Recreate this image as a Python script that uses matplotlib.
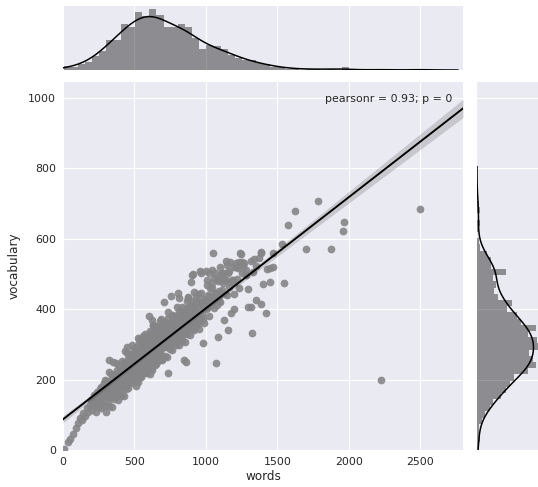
import numpy as np
import matplotlib
matplotlib.use("Agg")
import matplotlib.pyplot as plt

# ---------------- data ----------------
words = [
    5, 33, 48, 68, 92, 108, 120, 135, 142, 155,
    166, 175, 188, 195, 203, 208, 212, 218, 222, 228,
    233, 238, 243, 247, 252, 256, 260, 264, 268, 272,
    276, 280, 284, 287, 291, 294, 297, 299, 302, 305,
    307, 310, 312, 315, 318, 320, 321, 323, 325, 328,
    330, 333, 336, 338, 340, 343, 345, 347, 348, 350,
    353, 355, 358, 360, 362, 365, 368, 370, 373, 375,
    378, 380, 383, 385, 388, 390, 392, 394, 396, 398,
    401, 403, 405, 407, 409, 411, 413, 415, 417, 419,
    421, 423, 425, 427, 428, 429, 431, 433, 435, 436,
    437, 439, 441, 443, 445, 446, 447, 449, 451, 453,
    454, 455, 457, 459, 461, 462, 463, 465, 467, 469,
    471, 473, 475, 477, 478, 479, 481, 483, 485, 487,
    489, 491, 492, 493, 495, 497, 499, 404, 426, 468,
    501, 502, 504, 505, 507, 508, 510, 511, 513, 514,
    516, 517, 519, 520, 522, 523, 525, 526, 528, 529,
    531, 532, 534, 535, 537, 538, 540, 541, 543, 544,
    546, 547, 549, 550, 552, 553, 555, 556, 558, 559,
    561, 562, 564, 565, 567, 568, 570, 571, 573, 574,
    576, 577, 579, 580, 582, 584, 586, 588, 590, 592,
    594, 596, 598, 599, 509, 533, 548, 563, 578, 595,
    601, 603, 604, 606, 608, 609, 611, 613, 614, 616,
    618, 619, 621, 623, 624, 626, 628, 629, 631, 633,
    634, 635, 636, 638, 640, 641, 643, 645, 646, 648,
    650, 651, 653, 655, 656, 658, 660, 661, 663, 665,
    666, 668, 670, 671, 673, 675, 676, 678, 680, 681,
    683, 685, 686, 688, 690, 691, 693, 695, 697, 699,
    612, 627, 642, 657, 672, 687, 696, 607, 622, 652,
    701, 703, 705, 706, 708, 710, 712, 714, 716, 718,
    720, 722, 724, 726, 728, 730, 733, 735, 737, 739,
    741, 743, 745, 747, 749, 751, 754, 756, 758, 760,
    762, 764, 766, 768, 770, 772, 774, 776, 778, 780,
    782, 784, 786, 788, 790, 792, 794, 796, 798, 733,
    801, 803, 804, 806, 808, 810, 812, 814, 816, 818,
    820, 822, 824, 826, 828, 830, 833, 835, 837, 839,
    841, 843, 845, 847, 849, 851, 854, 856, 859, 861,
    863, 865, 868, 870, 872, 875, 877, 880, 882, 885,
    887, 890, 892, 894, 896, 898, 815, 845, 871, 893,
    900, 903, 906, 908, 911, 914, 917, 920, 923, 926,
    929, 932, 935, 938, 941, 944, 947, 950, 953, 957,
    960, 964, 967, 970, 974, 977, 981, 985, 990, 995,
    1000, 1005, 1010, 1015, 1020, 1025, 1030, 1036, 1042, 1047,
    1053, 1061, 1068, 1075, 1082, 1090, 1097, 1003, 1028, 1056,
    1105, 1112, 1124, 1124, 1133, 1142, 1152, 1152, 1160, 1173,
    1180, 1194, 1194, 1208, 1215, 1225, 1236, 1243, 1252, 1265,
    1278, 1292, 1292, 1313, 1313, 1320, 1327, 1334, 1348, 1348,
    1369, 1383, 1383, 1383, 1397, 1424, 1430, 1452, 1452, 1473,
    1473, 1536, 1550, 1578, 1627, 1704, 1788, 1878, 1962, 1969,
    1012, 1033, 1058, 1072, 1088, 1102, 1118, 1138, 1165, 1188,
    1022, 1044, 1066, 1094, 1116, 1146, 1170, 1200, 1230, 1258,
    410, 432, 452, 470, 488, 506, 521, 539, 557, 571,
    585, 597, 605, 617, 630, 639, 649, 662, 674, 689,
    702, 715, 727, 738, 748, 759, 769, 781, 793, 805,
    818, 829, 842, 853, 866, 878, 889, 902, 915, 928,
    940, 952, 965, 978, 992, 1008, 1024, 1040, 1058, 1076,
    1092, 1110, 1128, 1148, 1168, 1188, 1210, 1232, 1255, 1280,
    520, 545, 566, 588, 610, 633, 655, 678, 700, 725,
    742, 765, 787, 810, 832, 855, 878, 900, 925, 948,
    2228, 2500,
]

vocabulary = [
    4, 22, 30, 45, 62, 78, 90, 84, 105, 96,
    118, 108, 128, 142, 114, 140, 124, 156, 130, 108,
    144, 166, 134, 122, 156, 172, 142, 118, 180, 152,
    164, 136, 190, 125, 168, 154, 198, 108, 178, 152,
    160, 196, 133, 179, 151, 221, 256, 124, 191, 179,
    190, 151, 215, 167, 182, 123, 203, 165, 250, 151,
    160, 191, 217, 145, 199, 179, 248, 161, 190, 175,
    226, 179, 143, 214, 165, 201, 240, 179, 223, 179,
    193, 228, 166, 211, 183, 253, 201, 156, 223, 211,
    221, 182, 246, 198, 213, 153, 233, 196, 280, 181,
    189, 221, 246, 174, 228, 293, 275, 188, 217, 203,
    259, 211, 175, 246, 196, 232, 271, 210, 253, 210,
    240, 203, 272, 224, 255, 189, 238, 297, 212, 220,
    218, 270, 234, 200, 257, 287, 230, 153, 239, 235,
    234, 269, 206, 252, 223, 293, 241, 196, 263, 250,
    261, 221, 285, 237, 252, 192, 272, 234, 319, 219,
    228, 259, 285, 212, 266, 245, 314, 226, 255, 240,
    291, 243, 207, 278, 228, 264, 303, 242, 285, 242,
    271, 234, 303, 255, 286, 220, 270, 328, 243, 251,
    249, 300, 265, 230, 288, 317, 260, 218, 297, 278,
    303, 262, 284, 380, 183, 307, 209, 324, 223, 318,
    269, 304, 241, 287, 259, 328, 276, 232, 298, 286,
    296, 257, 320, 273, 287, 228, 308, 270, 355, 256,
    264, 295, 321, 248, 302, 281, 350, 263, 291, 277,
    328, 280, 244, 314, 265, 300, 340, 278, 322, 279,
    308, 271, 341, 292, 324, 257, 307, 365, 280, 288,
    286, 338, 302, 268, 326, 355, 298, 255, 334, 316,
    217, 354, 240, 353, 292, 371, 257, 289, 368, 289,
    304, 339, 419, 322, 294, 364, 311, 267, 334, 321,
    332, 293, 356, 309, 324, 265, 219, 307, 392, 293,
    301, 333, 359, 286, 340, 320, 436, 302, 330, 316,
    367, 319, 283, 354, 305, 340, 380, 319, 362, 319,
    349, 311, 381, 333, 365, 298, 348, 407, 321, 307,
    327, 447, 343, 309, 367, 433, 339, 297, 376, 357,
    346, 381, 318, 364, 336, 406, 354, 309, 376, 364,
    374, 335, 256, 351, 366, 307, 387, 350, 251, 335,
    344, 376, 402, 330, 383, 363, 432, 345, 374, 360,
    410, 364, 327, 476, 349, 384, 394, 343, 395, 359,
    498, 353, 423, 501, 407, 341, 391, 450, 365, 374,
    372, 424, 389, 355, 413, 443, 386, 345, 424, 507,
    395, 504, 368, 415, 387, 305, 405, 362, 430, 418,
    507, 404, 469, 422, 504, 380, 461, 425, 511, 558,
    423, 504, 248, 413, 322, 451, 521, 400, 437, 432,
    499, 453, 370, 504, 444, 482, 342, 504, 508, 390,
    482, 521, 399, 521, 487, 517, 558, 556, 502, 532,
    512, 407, 456, 405, 536, 333, 505, 541, 427, 522,
    544, 558, 561, 416, 470, 390, 513, 516, 476, 521,
    558, 584, 473, 638, 678, 570, 707, 570, 621, 647,
    441, 411, 488, 444, 481, 419, 473, 538, 462, 478,
    417, 475, 447, 422, 487, 526, 477, 444, 533, 523,
    222, 185, 247, 217, 274, 211, 262, 248, 304, 242,
    245, 297, 283, 246, 336, 276, 320, 253, 316, 341,
    342, 296, 329, 376, 292, 350, 328, 378, 315, 360,
    338, 393, 329, 382, 424, 349, 384, 343, 413, 438,
    419, 379, 447, 372, 425, 483, 410, 461, 403, 485,
    436, 504, 487, 441, 534, 483, 532, 459, 535, 497,
    253, 241, 298, 246, 339, 277, 314, 269, 355, 322,
    297, 383, 332, 372, 313, 397, 435, 365, 397, 362,
    199, 684,
]

x_ticks = [0, 500, 1000, 1500, 2000, 2500]
y_ticks = [0, 200, 400, 600, 800, 1000]
x_label = "words"
y_label = "vocabulary"
stat_text = "pearsonr = 0.93; p = 0"

# ---------------- helpers ----------------
w = np.asarray(words, float)
v = np.asarray(vocabulary, float)
assert len(w) == len(v), (len(w), len(v))


def kde(data, cut=3, gridsize=100):
    n = len(data)
    q75, q25 = np.percentile(data, [75, 25])
    a = min(np.std(data, ddof=1), (q75 - q25) / 1.349)
    bw = 1.059 * a * n ** (-0.2)
    grid = np.linspace(data.min() - cut * bw, data.max() + cut * bw, gridsize)
    z = (grid[:, None] - data[None, :]) / bw
    dens = np.exp(-0.5 * z ** 2).sum(axis=1) / (n * bw * np.sqrt(2 * np.pi))
    return grid, dens


BG = "#EAEAF2"
TXT = "#262626"
plt.rcParams["font.family"] = ["DejaVu Sans"]

fig = plt.figure(figsize=(538 / 72, 487 / 72), dpi=72)
ax = fig.add_axes([63 / 538, 37 / 487, 400 / 538, 368 / 487])
axx = fig.add_axes([63 / 538, 417 / 487, 400 / 538, 64 / 487], sharex=ax)
axy = fig.add_axes([477 / 538, 37 / 487, 65 / 538, 368 / 487], sharey=ax)

for a in (ax, axx, axy):
    a.set_facecolor(BG)
    for s in a.spines.values():
        s.set_visible(False)
    a.tick_params(length=0, colors=TXT, labelsize=11)
    a.set_axisbelow(True)

ax.grid(True, color="white", lw=1.1)
axx.xaxis.grid(True, color="white", lw=1.1)
axx.yaxis.grid(False)
axy.yaxis.grid(True, color="white", lw=1.1)
axy.xaxis.grid(False)

# ---- joint scatter + regression ----
ax.scatter(w, v, s=60, color="#858587", alpha=0.9, linewidths=0, zorder=2)

slope, intercept = np.polyfit(w, v, 1)
xs = np.linspace(0, 2800, 200)
yhat = intercept + slope * xs
resid = v - (intercept + slope * w)
n = len(w)
s_err = np.sqrt((resid ** 2).sum() / (n - 2))
se = s_err * np.sqrt(1.0 / n + (xs - w.mean()) ** 2 / ((w - w.mean()) ** 2).sum())
ax.fill_between(xs, yhat - 1.96 * se, yhat + 1.96 * se, color="k", alpha=0.15,
                linewidth=0, zorder=3)
ax.plot(xs, yhat, color="k", lw=1.9, zorder=4)

ax.set_xticks(x_ticks)
ax.set_yticks(y_ticks)
ax.tick_params(axis="x", pad=7)
ax.tick_params(axis="y", pad=7)
ax.set_xlabel(x_label, fontsize=12, color=TXT, labelpad=3)
ax.set_ylabel(y_label, fontsize=12, color=TXT, labelpad=7)
ax.text(0.9725, 0.954, stat_text, transform=ax.transAxes, ha="right",
        va="center", fontsize=11, color=TXT)

# ---- top marginal ----
axx.hist(w, bins=50, density=True, color="k", alpha=0.4, linewidth=0)
gx, dx = kde(w)
axx.plot(gx, dx, color="k", lw=1.5)
axx.set_ylim(0, None)
axx.tick_params(labelbottom=False, labelleft=False)
axx.set_yticks([])

# ---- right marginal ----
axy.hist(v, bins=40, density=True, color="k", alpha=0.4, linewidth=0,
         orientation="horizontal")
gy, dy = kde(v)
axy.plot(dy, gy, color="k", lw=1.5)
axy.set_xlim(0, None)
axy.tick_params(labelbottom=False, labelleft=False)
axy.set_xticks([])

ax.set_xlim(0, 2800)
ax.set_ylim(0, 1045)

fig.savefig("out.png", dpi=72, facecolor="white")
